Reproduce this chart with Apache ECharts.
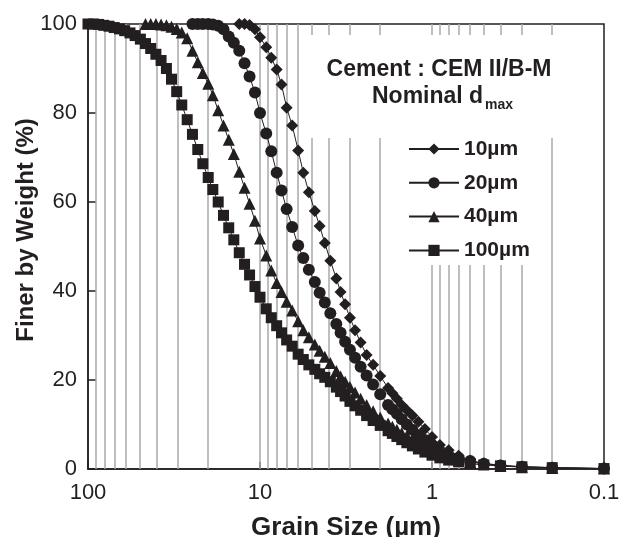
<!DOCTYPE html>
<html>
<head>
<meta charset="utf-8">
<script src="https://cdn.jsdelivr.net/npm/echarts@6/dist/echarts.min.js"></script>
<style>
  html, body { margin: 0; padding: 0; background: #fff; }
  #chart { width: 619px; height: 537px; }
</style>
</head>
<body>
<div id="chart"></div>
<script>
// Particle size classes (µm), coarse to fine
const sizes = [
  100, 93, 86.8, 80.9, 75.5, 70.4, 65.6, 61.2, 57, 53.2,
  49.6, 46.3, 43.2, 40.3, 37.6, 35, 32.7, 30.5, 28.5, 26.5,
  24.7, 23, 21.5, 20, 18.8, 17.5, 16.3, 15.2, 14.2, 13.2,
  12.3, 11.5, 10.7, 10, 9.2, 8.6, 8.0, 7.5, 7.0, 6.5,
  6.0, 5.6, 5.2, 4.8, 4.5, 4.2, 3.9, 3.6, 3.4, 3.2,
  3.0, 2.8, 2.6, 2.4, 2.2, 2.0, 1.8, 1.7, 1.6, 1.5,
  1.4, 1.3, 1.2, 1.1, 1.0, 0.9, 0.8, 0.7, 0.6, 0.5,
  0.4, 0.3, 0.2, 0.1
];

// Cumulative % finer; each list covers the last N size classes
const pct10 = [
  100, 100, 99.8, 98.8, 97.0, 94.8, 92.4, 89.8, 86.4, 81.2,
  77.2, 71.6, 66.6, 62.2, 58.0, 54.6, 50.8, 46.8, 42.8, 39.8,
  37.0, 34.0, 31.2, 28.4, 25.6, 23.4, 20.9, 18.2, 17.0, 15.8,
  14.4, 13.2, 12.0, 10.6, 9.0, 7.2, 5.4, 4.2, 3.0, 1.9,
  1.3, 0.8, 0.5, 0.3, 0.1
];
const pct20 = [
  100, 100, 100, 100, 99.9, 99.6, 98.8, 97.2, 95.8, 94.0,
  91.2, 88.2, 84.6, 80.0, 75.4, 71.4, 66.6, 62.6, 58.4, 54.4,
  50.2, 47.4, 44.8, 42.0, 39.6, 37.4, 35.0, 32.6, 30.6, 28.6,
  26.8, 25.0, 23.0, 21.0, 19.0, 16.8, 14.4, 13.4, 12.4, 11.2,
  10.0, 8.8, 7.6, 6.5, 5.4, 3.8, 3.0, 2.5, 1.8, 1.2,
  0.8, 0.5, 0.3, 0.1
];
const pct40 = [
  100, 100, 100, 99.9, 99.7, 99.4, 98.9, 98.1, 96.8, 94.0,
  91.4, 89.0, 86.6, 84.0, 80.6, 77.2, 74.0, 70.8, 66.8, 63.2,
  59.6, 55.8, 51.8, 48.0, 44.6, 41.8, 39.8, 37.6, 35.6, 33.2,
  31.2, 29.6, 28.0, 26.6, 25.2, 23.8, 22.0, 20.8, 19.6, 18.4,
  17.2, 15.8, 14.4, 13.0, 11.6, 10.2, 9.5, 8.8, 8.1, 7.5,
  6.8, 6.0, 5.2, 4.4, 3.6, 2.9, 2.2, 1.6, 1.1, 0.7,
  0.4, 0.2, 0.1
];
const pct100 = [
  100, 100, 99.9, 99.7, 99.5, 99.2, 98.9, 98.5, 98.0, 97.4,
  96.6, 95.6, 94.5, 93.2, 91.8, 90.0, 87.6, 84.8, 81.8, 78.5,
  75.2, 71.8, 68.6, 65.5, 62.8, 60.0, 57.0, 54.2, 51.5, 48.6,
  46.0, 43.6, 41.0, 38.6, 36.0, 34.0, 32.2, 30.6, 29.0, 27.6,
  25.8, 24.6, 23.4, 22.4, 21.4, 20.6, 19.6, 18.4, 17.4, 16.4,
  15.2, 14.2, 13.2, 12.0, 10.9, 9.8, 8.6, 8.0, 7.3, 6.6,
  5.9, 5.2, 4.5, 3.8, 3.1, 2.5, 2.0, 1.6, 1.2, 0.9,
  0.7, 0.5, 0.3, 0.1
];

const seriesNames = ['10µm', '20µm', '40µm', '100µm'];
const seriesValues = [pct10, pct20, pct40, pct100];

// Vertical reference lines at every 1–9 multiple inside each decade
const gridValues = [
  90, 80, 70, 60, 50, 40, 30, 20, 10,
  9, 8, 7, 6, 5, 4, 3, 2, 1,
  0.9, 0.8, 0.7, 0.6, 0.5, 0.4, 0.3, 0.2
];

const INK = '#231f20';
const FONT = '"Liberation Sans", Arial, sans-serif';
const markerStyle = [
  { symbol: 'diamond', symbolSize: 12 },
  { symbol: 'circle', symbolSize: 12 },
  { symbol: 'triangle', symbolSize: 12 },
  { symbol: 'rect', symbolSize: 11 }
];

function pairs(vals) {
  const offset = sizes.length - vals.length;
  return vals.map((v, i) => [sizes[offset + i], v]);
}

const chart = echarts.init(document.getElementById('chart'));

const dataSeries = seriesNames.map((name, k) => ({
  name: name,
  type: 'line',
  z: 3,
  data: pairs(seriesValues[k]),
  symbol: markerStyle[k].symbol,
  symbolSize: markerStyle[k].symbolSize,
  showAllSymbol: true,
  clip: false,
  itemStyle: { color: INK },
  lineStyle: { color: INK, width: 1 },
  emphasis: { disabled: true },
  animation: false
}));

chart.setOption({
  animation: false,
  textStyle: { fontFamily: FONT, color: INK },
  grid: {
    left: 88, right: 15, top: 24, bottom: 68,
    outerBoundsMode: 'none',
    containLabel: false,
    show: true, borderColor: INK, borderWidth: 1.5
  },
  xAxis: {
    type: 'log',
    logBase: 10,
    min: 0.1,
    max: 100,
    inverse: true,
    name: 'Grain Size (µm)',
    nameLocation: 'middle',
    nameGap: 46,
    nameTextStyle: { fontSize: 26, fontWeight: 'bold', color: INK, fontFamily: FONT },
    axisLine: { show: true, lineStyle: { color: INK, width: 1.5 } },
    axisTick: { show: true, inside: true, length: 7, lineStyle: { color: INK, width: 1.5 } },
    axisLabel: { fontSize: 22, color: INK, margin: 13, fontFamily: FONT },
    splitLine: { show: false },
    minorTick: { show: false }
  },
  yAxis: {
    type: 'value',
    min: 0,
    max: 100,
    interval: 20,
    axisLine: { show: true, lineStyle: { color: INK, width: 1.5 } },
    axisTick: { show: true, inside: true, length: 8, lineStyle: { color: INK, width: 1.5 } },
    axisLabel: { fontSize: 22, color: INK, margin: 11, fontFamily: FONT },
    splitLine: { show: false }
  },
  legend: {
    data: seriesNames,
    orient: 'vertical',
    left: 408,
    top: 138,
    padding: 0,
    itemWidth: 50,
    itemHeight: 14,
    itemGap: 11.8,
    textStyle: { fontSize: 21, fontWeight: 'bold', color: INK, fontFamily: FONT, lineHeight: 22 },
    selectedMode: false
  },
  graphic: [
    // blank panels behind the annotation text
    { type: 'rect', z: 2, silent: true, shape: { x: 303, y: 35, width: 272, height: 103 }, style: { fill: '#fff' } },
    { type: 'rect', z: 2, silent: true, shape: { x: 395, y: 137, width: 145, height: 128 }, style: { fill: '#fff' } },
    { type: 'text', z: 10, x: 439, y: 70, style: { text: 'Cement : CEM II/B-M', fill: INK, font: 'bold 23px ' + FONT, align: 'center', verticalAlign: 'middle' } },
    { type: 'text', z: 10, x: 372, y: 97, style: { text: 'Nominal d', fill: INK, font: 'bold 23px ' + FONT, align: 'left', verticalAlign: 'middle' } },
    { type: 'text', z: 10, x: 485, y: 105, style: { text: 'max', fill: INK, font: 'bold 14px ' + FONT, align: 'left', verticalAlign: 'middle' } },
    // vertical axis title
    { type: 'text', z: 10, x: 26, y: 230, rotation: Math.PI / 2, style: { text: 'Finer by Weight (%)', fill: INK, font: 'bold 24px ' + FONT, align: 'center', verticalAlign: 'middle' } }
  ],
  series: [
    {
      name: 'gridlines',
      type: 'line',
      data: [],
      silent: true,
      markLine: {
        silent: true,
        z: 1,
        symbol: ['none', 'none'],
        label: { show: false },
        lineStyle: { color: '#a8a8a8', width: 1.5, type: 'solid' },
        emphasis: { disabled: true },
        animation: false,
        data: gridValues.map(v => ({ xAxis: v }))
      }
    }
  ].concat(dataSeries)
});
</script>
</body>
</html>
